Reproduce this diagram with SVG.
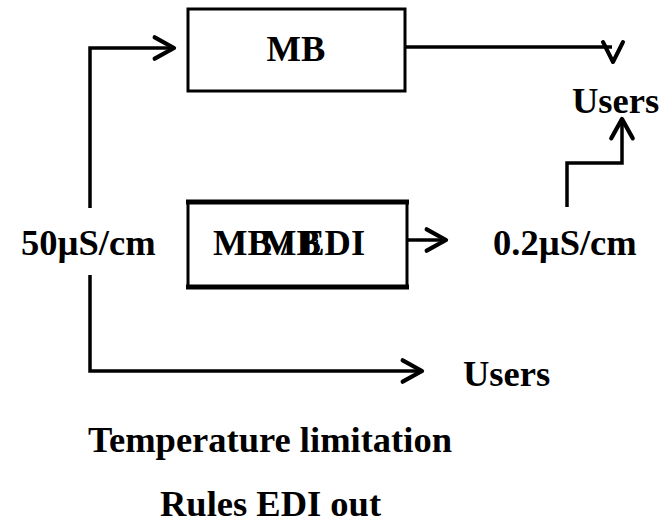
<svg xmlns="http://www.w3.org/2000/svg" width="663" height="525" viewBox="0 0 663 525">
  <style>
    .lbl { font-family: "Liberation Serif", "Times New Roman", serif; font-weight: bold; font-size: 36.5px; fill: #000; }
    .box { fill: #fff; stroke: #000; stroke-width: 3; }
    .wire { fill: none; stroke: #000; stroke-width: 3.5; stroke-linejoin: miter; }
    .head { fill: none; stroke: #000; stroke-width: 4; stroke-linecap: round; stroke-linejoin: round; }
  </style>
  <defs>
    <marker id="chev" markerUnits="userSpaceOnUse" markerWidth="30" markerHeight="30" viewBox="-22 -14 26 28" refX="0" refY="0" orient="auto">
      <path d="M-18,-10 L0,0 L-18,10" class="head"/>
    </marker>
  </defs>
  <rect width="663" height="525" fill="#fff"/>

  <!-- connectors -->
  <g id="connectors">
    <path class="wire" d="M90,208 V48 H174" marker-end="url(#chev)"/>
    <path class="wire" d="M90,275 V371 H422" marker-end="url(#chev)"/>
    <path class="wire" d="M405,47 H612"/>
    <path class="head" d="M603,42 L613,62 L623,42"/>
    <path class="wire" d="M407,240 H446" marker-end="url(#chev)"/>
    <path class="wire" d="M567,207 V163 H622 V119" marker-end="url(#chev)"/>
  </g>

  <!-- mixed-bed unit -->
  <g id="mb">
    <rect class="box" x="188" y="9" width="217" height="82"/>
    <text class="lbl" x="296" y="61" text-anchor="middle">MB</text>
  </g>

  <!-- MB / EDI unit -->
  <g id="mb-edi">
    <rect x="188" y="202" width="219" height="85" fill="#fff" stroke="#000" stroke-width="3"/>
    <line x1="186" y1="202" x2="409" y2="202" stroke="#000" stroke-width="5"/>
    <line x1="186" y1="287" x2="409" y2="287" stroke="#000" stroke-width="5"/>
    <text class="lbl" x="213" y="255">MB / EDI</text>
    <text class="lbl" x="262" y="255">MB</text>
  </g>

  <g id="feed">
    <text class="lbl" x="21" y="255">50µS/cm</text>
  </g>
  <g id="product">
    <text class="lbl" x="493" y="255">0.2µS/cm</text>
  </g>
  <g id="users-top">
    <text class="lbl" x="572" y="113">Users</text>
  </g>
  <g id="users-bottom">
    <text class="lbl" x="463" y="386">Users</text>
  </g>
  <g id="notes">
    <text class="lbl" x="88" y="452">Temperature limitation</text>
    <text class="lbl" x="160" y="516">Rules EDI out</text>
  </g>
</svg>
